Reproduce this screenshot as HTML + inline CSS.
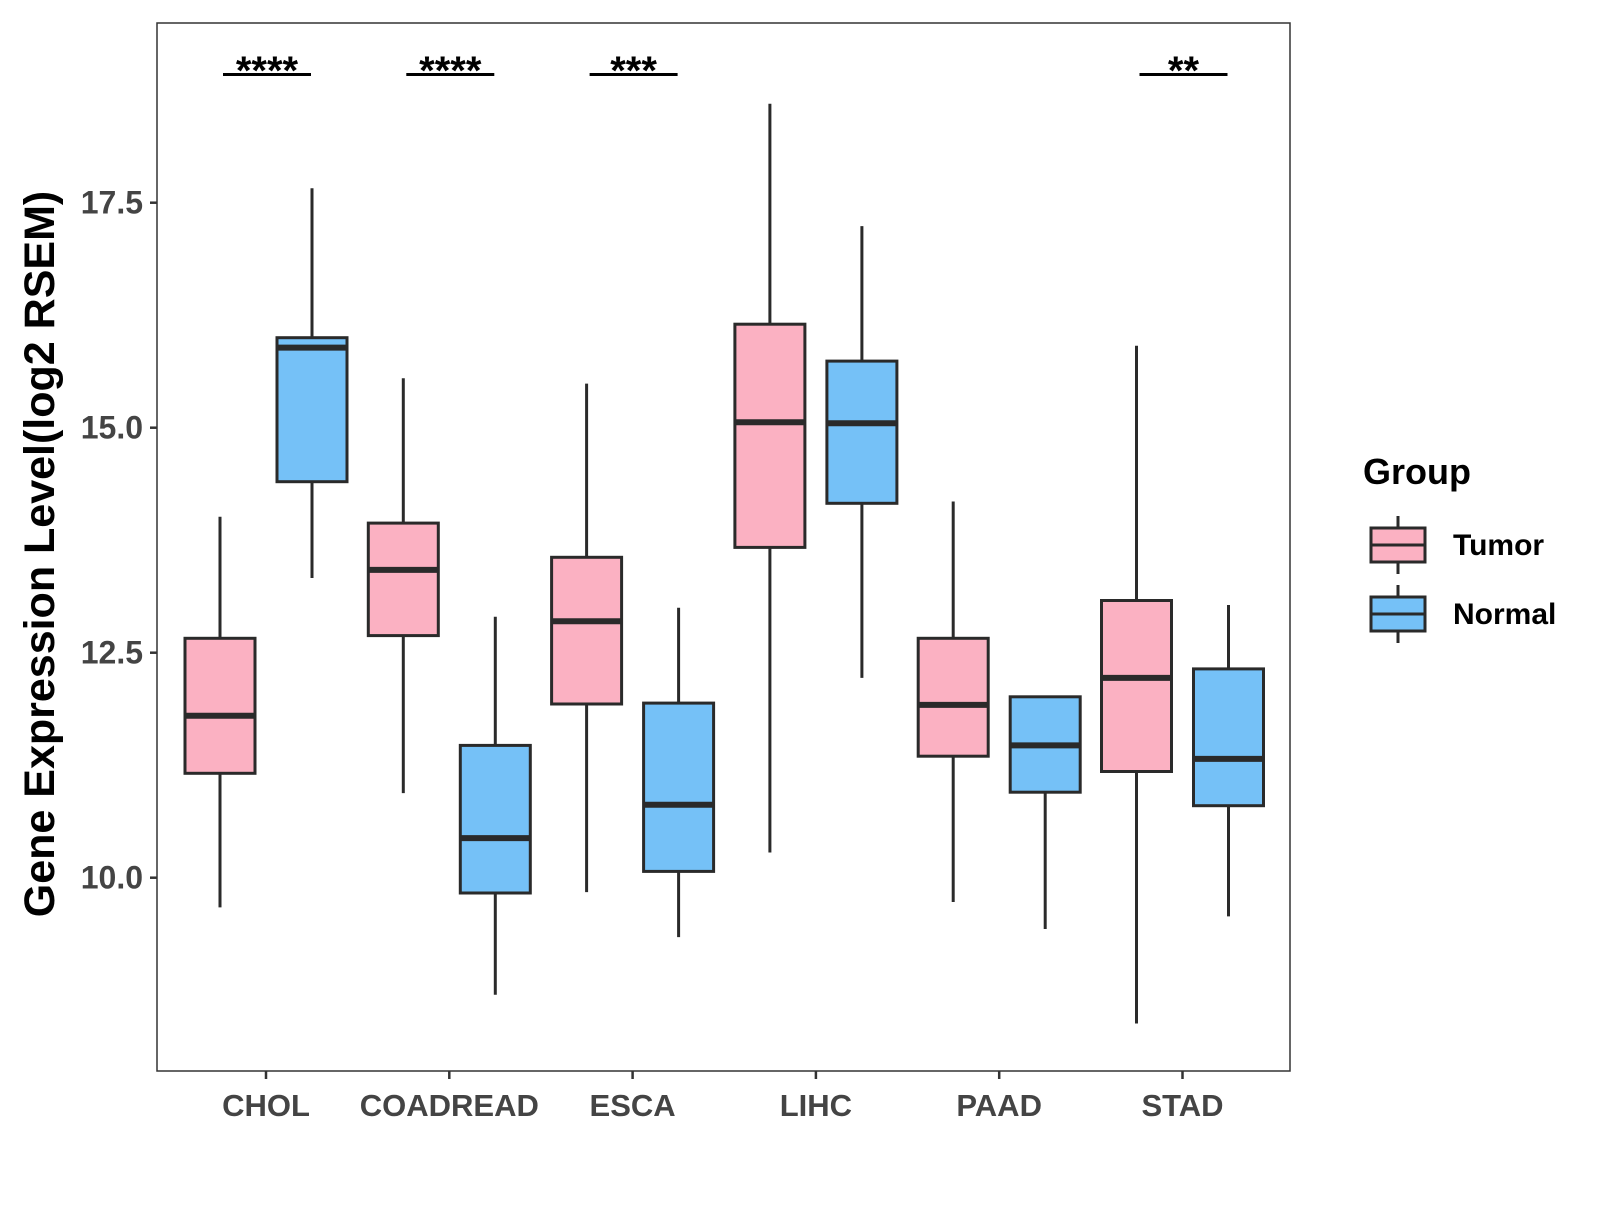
<!DOCTYPE html>
<html><head><meta charset="utf-8"><style>
body{margin:0;background:#fff;}
svg text{font-family:"Liberation Sans",Arial,sans-serif;font-weight:bold;}
</style></head><body>
<svg id="chart" width="1600" height="1200" viewBox="0 0 1600 1200" xmlns="http://www.w3.org/2000/svg"></svg>
<script>
const categories=["CHOL","COADREAD","ESCA","LIHC","PAAD","STAD"];
// [lower whisker, q1, median, q3, upper whisker]
const tumorStats=[[9.67,11.16,11.80,12.66,14.01],[10.94,12.69,13.42,13.94,15.55],[9.84,11.93,12.85,13.56,15.49],[10.28,13.67,15.06,16.15,18.60],[9.73,11.35,11.92,12.66,14.18],[8.38,11.18,12.22,13.08,15.91]];
const normalStats=[[13.33,14.40,15.89,16.0,17.66],[8.70,9.83,10.44,11.47,12.90],[9.34,10.07,10.81,11.94,13.0],[12.22,14.16,15.05,15.74,17.24],[9.43,10.95,11.47,12.01,12.01],[9.57,10.80,11.32,12.32,13.03]];
const sigLabels=["****","****","***","","","**"];
const yTicks=[10.0,12.5,15.0,17.5];
const yTickLabels=["10.0","12.5","15.0","17.5"];

const svg=document.getElementById('chart');
const NS="http://www.w3.org/2000/svg";
function mk(tag,attrs,parent){const e=document.createElementNS(NS,tag);for(const k in attrs)e.setAttribute(k,attrs[k]);(parent||svg).appendChild(e);return e;}
const L=157,T=23,R=1290,B=1071;
const x0=266,dx=183.3;
function xs(i){return x0+i*dx;}
function ys(v){return 877.7-(v-10)*90;}

const panel=mk('rect',{x:L,y:T,width:R-L,height:B-T,fill:'#fff',stroke:'#333','stroke-width':1.5});



yTicks.forEach((v,i)=>{
  const t=mk('line',{x1:L-7,x2:L,y1:ys(v),y2:ys(v),stroke:'#333','stroke-width':2.5});
  
  
  const lb=mk('text',{x:L-14,y:ys(v)+11,'text-anchor':'end','font-size':32,fill:'#444'});
  lb.textContent=yTickLabels[i];
  
  
});
const yt=mk('text',{x:0,y:0,transform:'translate(54,554) rotate(-90)','text-anchor':'middle','font-size':43,fill:'#000'});
yt.textContent='Gene Expression Level(log2 RSEM)';



function drawBox(cx,s,fill,name){
  const g=mk('g',{});
  
  
  const w=70;
  mk('line',{x1:cx,x2:cx,y1:ys(s[4]),y2:ys(s[3]),stroke:'#2a2a2a','stroke-width':3},g);
  mk('line',{x1:cx,x2:cx,y1:ys(s[1]),y2:ys(s[0]),stroke:'#2a2a2a','stroke-width':3},g);
  mk('rect',{x:cx-w/2,y:ys(s[3]),width:w,height:Math.max(ys(s[1])-ys(s[3]),0),fill:fill,stroke:'#2a2a2a','stroke-width':3},g);
  mk('line',{x1:cx-w/2,x2:cx+w/2,y1:ys(s[2]),y2:ys(s[2]),stroke:'#2a2a2a','stroke-width':6},g);
}
categories.forEach((c,i)=>{
  const cx=xs(i);
  drawBox(cx-46,tumorStats[i],'#FBB1C2','box-'+c.toLowerCase()+'-tumor');
  drawBox(cx+46,normalStats[i],'#75C1F7','box-'+c.toLowerCase()+'-normal');
  const t=mk('line',{x1:cx,x2:cx,y1:B,y2:B+8,stroke:'#333','stroke-width':2.5});
  
  
  const lb=mk('text',{x:cx,y:1116,'text-anchor':'middle','font-size':31,fill:'#444'});
  lb.textContent=c;
  
  
  if(sigLabels[i]){
    const g=mk('g',{});
    
    
    mk('line',{x1:cx-43,x2:cx+45,y1:74.5,y2:74.5,stroke:'#000','stroke-width':3},g);
    const st=mk('text',{x:cx+1,y:84,'text-anchor':'middle','font-size':40,fill:'#000'},g);
    st.textContent=sigLabels[i];
  }
});

const lt=mk('text',{x:1363,y:484,'font-size':36,fill:'#000'});
lt.textContent='Group';


[['Tumor','#FBB1C2',545],['Normal','#75C1F7',614]].forEach(([n,f,cy])=>{
  const g=mk('g',{});
  
  
  mk('line',{x1:1398,x2:1398,y1:cy-29,y2:cy+29,stroke:'#2a2a2a','stroke-width':3},g);
  mk('rect',{x:1371,y:cy-17,width:54,height:34,fill:f,stroke:'#2a2a2a','stroke-width':3},g);
  mk('line',{x1:1371,x2:1425,y1:cy,y2:cy,stroke:'#2a2a2a','stroke-width':3},g);
  const tx=mk('text',{x:1453,y:cy+10,'font-size':30,fill:'#000'},g);
  tx.textContent=n;
});
</script>
</body></html>
